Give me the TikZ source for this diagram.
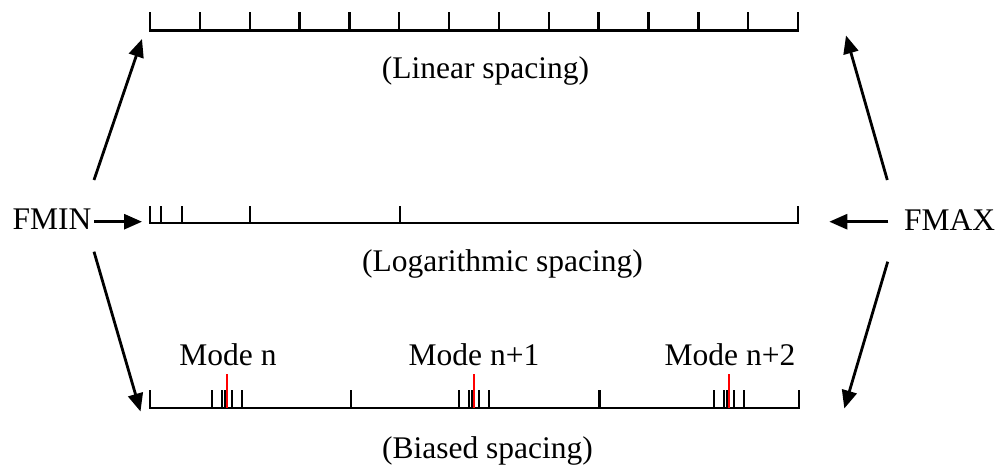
\documentclass[tikz,border=0pt]{standalone}
\usepackage{fontspec}
\setmainfont{Liberation Serif}
\usetikzlibrary{arrows.meta}
\begin{document}
\begin{tikzpicture}[x=1pt,y=-1pt,
  scaleline/.style={line width=2.6pt},
  tickmark/.style={line width=2.4pt},
  smalltick/.style={line width=2pt},
  modetick/.style={line width=2pt,red},
  conn/.style={line width=2.8pt,-{Triangle[length=18pt,width=15pt]}},
  lbl/.style={font=\fontsize{31.5}{36}\selectfont,inner sep=0pt,anchor=base}]
\useasboundingbox (0,0) rectangle (1000,466);
% labels
\node[lbl] (fmin) at (52,229) {FMIN};
\node[lbl] (fmax) at (949.5,230) {FMAX};
\node[lbl] (lin) at (485.5,78) {(Linear spacing)};
\node[lbl] (log) at (502.5,271.5) {(Logarithmic spacing)};
\node[lbl] (bias) at (487.5,458) {(Biased spacing)};
\node[lbl] (m0) at (228,365) {Mode n};
\node[lbl] (m1) at (474,365) {Mode n+1};
\node[lbl] (m2) at (730,365) {Mode n+2};
% top linear scale
\draw[scaleline] (149,30.5) -- (799,30.5);
\foreach \i in {0,...,13} \draw[tickmark] (150+\i*49.85,12) -- (150+\i*49.85,30.5);
% middle logarithmic scale
\draw[scaleline] (149,223) -- (799,223);
\foreach \x in {150,161,182,250,400,798} \draw[tickmark] (\x,206) -- (\x,223);
% bottom biased scale
\draw[scaleline] (149,408) -- (800,408);
\foreach \x in {150,351,599.5,799} \draw[tickmark] (\x,390) -- (\x,408);
\foreach \c in {227,474,729} {
  \foreach \d in {-15,-5,5,15} \draw[smalltick] (\c+\d,390) -- (\c+\d,408);
  \draw[smalltick] (\c-2,390) -- (\c-2,408);
  \draw[modetick] (\c,374) -- (\c,408);
}
% connector end points
\coordinate (lt0) at (94,180);   \coordinate (lt1) at (142,39);
\coordinate (lm0) at (94,221.7); \coordinate (lm1) at (142,221.7);
\coordinate (lb0) at (94,251.7); \coordinate (lb1) at (140.5,411.5);
\coordinate (rt0) at (887.3,180);   \coordinate (rt1) at (846,35.5);
\coordinate (rm0) at (888.3,221.7); \coordinate (rm1) at (829.3,221.7);
\coordinate (rb0) at (887.7,261.7); \coordinate (rb1) at (844.3,408.5);
\draw[conn] (lt0) -- (lt1);
\draw[conn] (lm0) -- (lm1);
\draw[conn] (lb0) -- (lb1);
\draw[conn] (rt0) -- (rt1);
\draw[conn] (rm0) -- (rm1);
\draw[conn] (rb0) -- (rb1);
\end{tikzpicture}
\end{document}
